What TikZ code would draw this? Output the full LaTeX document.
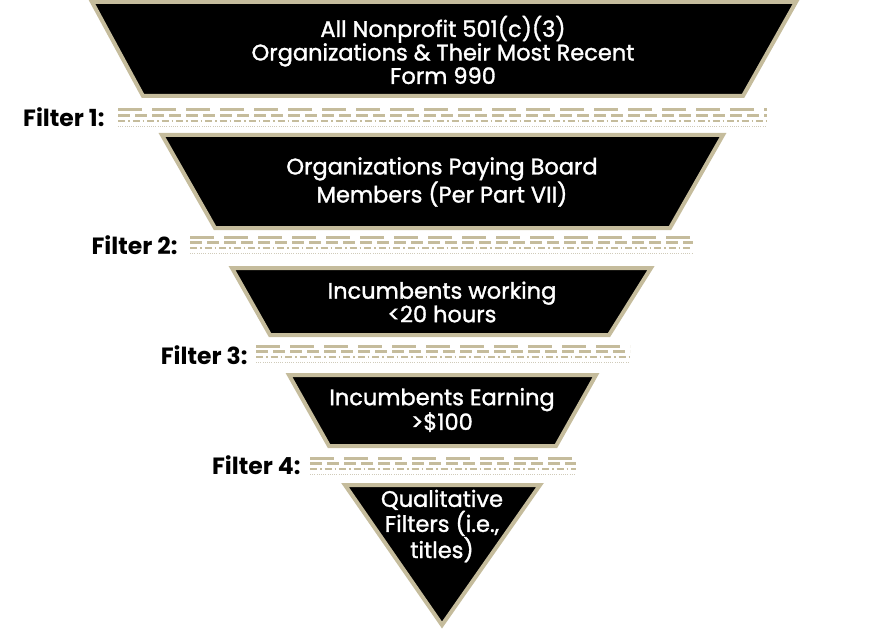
\documentclass[tikz,border=0pt]{standalone}
\usepackage{fontspec}
\setmainfont{Poppins}
\newfontfamily\stagefont{Poppins}[FakeBold=1.4]
\definecolor{gold}{RGB}{197,188,156}
\definecolor{palegold}{RGB}{208,203,186}
\begin{document}
\begin{tikzpicture}[x=1pt,y=-1pt,
    stage/.style={draw=gold, line width=4pt, fill=black, line join=miter},
    stagetext/.style={text=white, align=center, font=\stagefont\fontsize{22.5}{23.5}\selectfont},
    flabel/.style={anchor=east, font=\bfseries\fontsize{23.5}{26}\selectfont},
    rowa/.style={gold, line width=3pt, dash pattern=on 24pt off 10pt},
    rowb/.style={gold, line width=2.5pt, dash pattern=on 12pt off 5pt},
    rowc/.style={gold, line width=1.6pt, dash pattern=on 7pt off 3pt on 1.5pt off 3pt},
    rowd/.style={palegold, line width=0.6pt, dash pattern=on 1pt off 1.2pt}]
        \useasboundingbox (0,0) rectangle (893,631);

        \draw[stage] (92,2) -- (796,2) -- (743,96) -- (143,96) -- cycle;
        \draw[stage] (162,135) -- (723,135) -- (670,228) -- (215,228) -- cycle;
        \draw[stage] (232,268) -- (651,268) -- (609,335) -- (270,335) -- cycle;
        \draw[stage] (289,375) -- (596,375) -- (556,446) -- (329,446) -- cycle;
        \draw[stage] (345,485) -- (540,485) -- (442,625) -- cycle;

        % filter 1
        \draw[rowa] (118,110) -- (767,110);
        \draw[rowb] (118,115.5) -- (767,115.5);
        \draw[rowc] (118,121) -- (767,121);
        \draw[rowd] (118,126.5) -- (767,126.5);
        % filter 2
        \draw[rowa] (190,237) -- (693,237);
        \draw[rowb] (190,242.5) -- (693,242.5);
        \draw[rowc] (190,248) -- (693,248);
        \draw[rowd] (190,253.5) -- (693,253.5);
        % filter 3
        \draw[rowa] (256,346) -- (630,346);
        \draw[rowb] (256,351.5) -- (630,351.5);
        \draw[rowc] (256,357) -- (630,357);
        \draw[rowd] (256,362.5) -- (630,362.5);
        % filter 4
        \draw[rowa] (310,458) -- (576,458);
        \draw[rowb] (310,463.5) -- (576,463.5);
        \draw[rowc] (310,469) -- (576,469);
        \draw[rowd] (310,474.5) -- (576,474.5);

        \node[stagetext] (all) at (443,50) {All Nonprofit 501(c)(3)\\Organizations \& Their Most Recent\\Form 990};
        \node[stagetext] (paying) at (442,182) {Organizations Paying Board\\Members (Per Part VII)};
        \node[stagetext] (hours) at (442,302) {Incumbents working\\<20 hours};
        \node[stagetext] (earning) at (442,410) {Incumbents Earning\\>\$100};
        \node[stagetext] (qual) at (442,526) {Qualitative\\Filters (i.e.,\\titles)};

        \node[flabel] (f1) at (108,117) {Filter 1:};
        \node[flabel] (f2) at (181,245) {Filter 2:};
        \node[flabel] (f3) at (251,355) {Filter 3:};
        \node[flabel] (f4) at (304,465) {Filter 4:};

    \end{tikzpicture}
\end{document}
